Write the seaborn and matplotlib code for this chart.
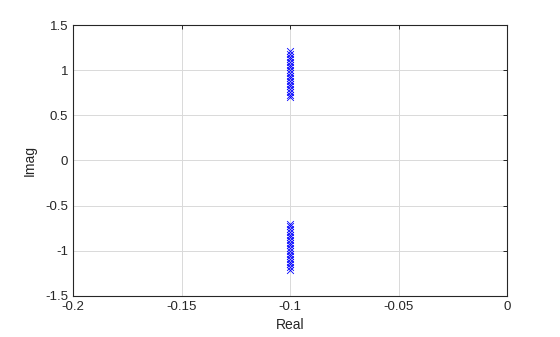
import matplotlib
matplotlib.use("Agg")
import matplotlib.pyplot as plt
import seaborn as sns
import pandas as pd

sns.set_style("white")
plt.rcParams['font.family'] = ['Liberation Sans', 'DejaVu Sans']

real_part = [-0.1] * 18
imag_upper = [0.70, 0.73, 0.76, 0.79, 0.82, 0.85, 0.88, 0.91, 0.94, 0.97,
              1.00, 1.03, 1.06, 1.09, 1.12, 1.15, 1.18, 1.21]
imag_lower = [-v for v in imag_upper]

df = pd.DataFrame({
    "Real": real_part + real_part,
    "Imag": imag_upper + imag_lower,
})

fig = plt.figure(figsize=(5.6, 3.37), dpi=100)
ax = fig.add_axes([0.1304, 0.1217, 0.7750, 0.8041])
sns.scatterplot(data=df, x="Real", y="Imag", marker="x", color="#0000ff",
                s=24, linewidth=0.6, ax=ax, zorder=3)
ax.set_xlim(-0.2, 0)
ax.set_ylim(-1.5, 1.5)
ax.set_xticks([-0.2, -0.15, -0.1, -0.05, 0])
ax.set_xticklabels(["-0.2", "-0.15", "-0.1", "-0.05", "0"])
ax.set_yticks([-1.5, -1, -0.5, 0, 0.5, 1, 1.5])
ax.set_yticklabels(["-1.5", "-1", "-0.5", "0", "0.5", "1", "1.5"])
ax.grid(True, color="#d9d9d9", linewidth=0.7)
ax.set_axisbelow(True)
ax.tick_params(direction="in", length=3, width=0.7, labelsize=9.5,
               colors="#262626", top=True, right=True, labelcolor="#262626")
for s in ax.spines.values():
    s.set_color("#262626")
    s.set_linewidth(0.8)
ax.set_xlabel("Real", fontsize=10, color="#262626")
ax.set_ylabel("Imag", fontsize=10, color="#262626", labelpad=6)
fig.savefig("out.png", dpi=100)
